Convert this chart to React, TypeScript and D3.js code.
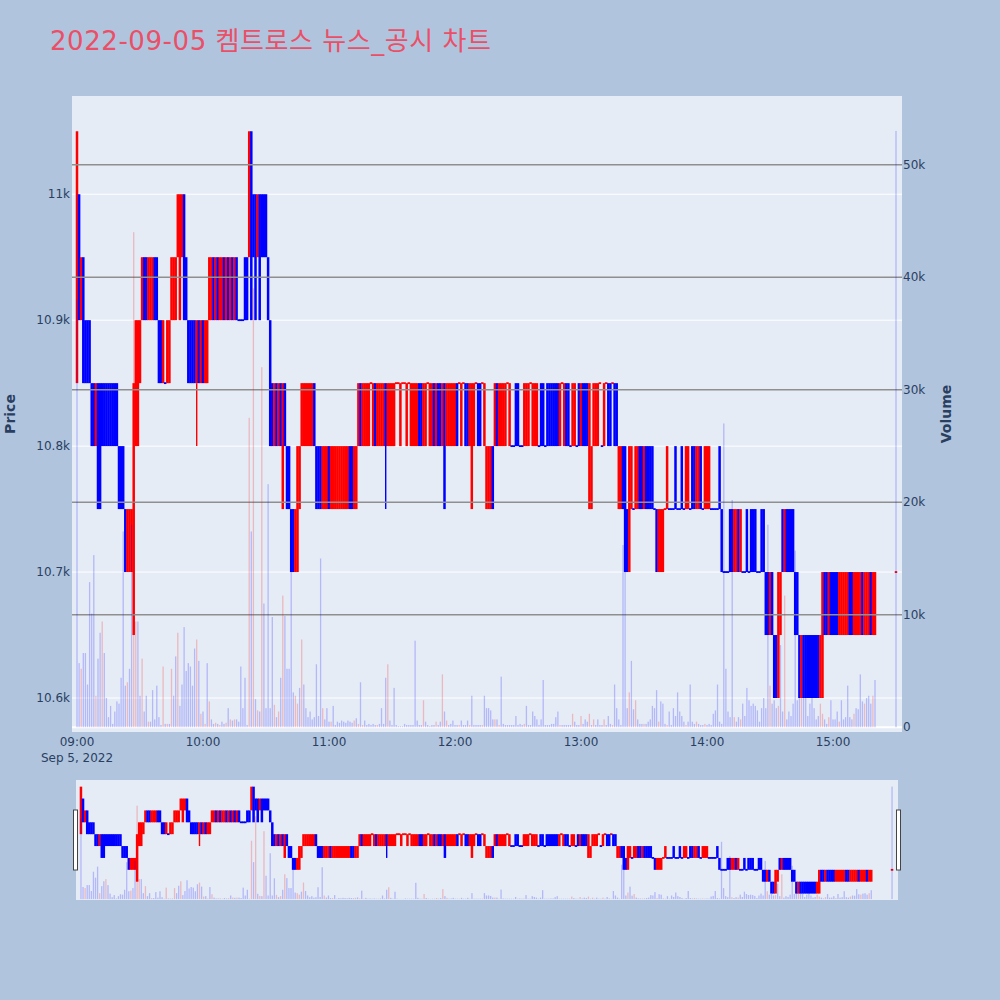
import React from "react";
import * as d3 from "d3";

// price ladder (index = level digit used in the candle tokens)
const priceLevels = [10600, 10650, 10700, 10750, 10800, 10850, 10900, 10950, 11000, 11050];

// one token per minute: open level, close level, optional low level
const candles09 = `
59 86 67 75 65 65 65 54 54 45
53 53 54 54 54 54 54 54 54 54
43 43 43 32 23 23 23 15 46 46
56 67 76 76 67 67 67 76 76 65
65 56 55 56 56 67 67 67 78 68
78 86 76 65 65 65 65 564 65 56`;
const candles10 = `
65 56 56 67 67 76 67 76 67 67
76 67 76 67 76 67 76 66 66 66
76 76 79 96 87 86 78 86 87 87
87 76 64 54 45 54 45 54 35 54
43 43 32 32 23 24 34 45 45 45
45 45 45 54 43 43 43 34 34 34`;
const candles11 = `
43 34 34 34 34 34 34 34 34 34
43 43 34 34 45 54 45 45 45 45
55 45 54 45 45 45 45 543 45 45
45 45 55 55 45 55 55 45 55 45
45 45 45 54 54 45 45 55 45 45
54 45 54 54 45 53 45 45 45 45`;
const candles12 = `
45 54 55 45 55 54 54 45 35 45
55 54 54 55 45 34 34 34 43 45
54 45 45 45 45 55 45 44 44 54
54 44 44 45 45 45 55 45 45 45
44 54 54 44 54 54 54 54 54 54
45 55 45 54 54 44 45 45 44 54`;
const candles13 = `
45 54 54 54 35 34 45 45 45 55
44 45 55 54 54 55 54 54 34 34
43 42 32 24 34 33 34 34 43 43
34 43 43 43 43 33 32 23 23 23
33 34 33 33 33 43 33 33 43 33
34 34 33 43 43 34 34 43 33 34`;
const candles14 = `
34 34 33 33 33 33 43 32 22 22
22 32 32 23 23 32 23 22 22 32
22 32 32 32 22 22 32 32 21 21
12 21 10 10 02 12 32 23 32 32
32 32 21 21 10 01 10 10 10 10
10 10 10 10 01 02 21 21 12 21`;
const candles15 = `
21 21 21 12 12 12 12 12 21 21
12 12 12 12 21 12 12 12 21 12 12`;
const candlesClose = `22`;

// volume per minute, thousands of shares
const volume09 = [38, 5.7, 5.2, 6.6, 6.6, 3.8, 12.9, 10.1, 15.3, 2.8, 6.1, 8.4, 9.4, 6.6, 2.6, 0.9, 1.9, 0.3, 1.4, 2.3, 2.1, 4.4, 17.4, 3.7, 4, 5.2, 18, 44, 9.4, 9.4, 2.8, 6.1, 1.4, 2.8, 0.5, 0.5, 3.3, 0.7, 3.7, 0.9, 0.2, 5.4, 0.3, 0.3, 0.3, 5.2, 2.8, 6.3, 8.4, 1.9, 3.8, 8.9, 5, 5.7, 5.4, 3.7, 7, 7.8, 5.9, 1.2];
const volume10 = [1.4, 0.3, 5.7, 2.3, 0.7, 0.3, 0.4, 0.3, 0.2, 0.5, 0.3, 0.4, 1.7, 0.7, 0.6, 0.7, 0.7, 0.5, 5.4, 1.7, 4.4, 0.2, 27.5, 17.4, 39, 2.5, 1.5, 1.4, 32, 11, 1.7, 21.6, 1.7, 9.8, 2, 0.9, 1.4, 4.4, 11.7, 9.9, 5.2, 5.2, 15, 3.1, 2.8, 2.1, 3.5, 7.8, 3.8, 1.7, 0.9, 1.4, 0.7, 0.9, 5.6, 1, 15, 1.7, 0.7, 1.7];
const volume11 = [0.5, 0.5, 1.9, 0.2, 0.5, 0.4, 0.6, 0.5, 0.4, 0.6, 0.5, 0.4, 0.6, 0.8, 0.3, 4, 0.2, 0.6, 0.2, 0.3, 0.2, 0.3, 0.2, 0.2, 0.3, 1.7, 0.3, 4.4, 5.6, 0.6, 0.2, 3.5, 0.2, 0.1, 0.1, 0.1, 0.3, 0.2, 0.2, 0.2, 0.2, 7.7, 0.6, 0.2, 0.2, 2.4, 0.5, 0.2, 0.1, 0.2, 0.2, 0.5, 0.2, 0.5, 4.7, 1.4, 0.6, 0.2, 0.3, 0.6];
const volume12 = [0.2, 0.2, 0.2, 0.6, 0.2, 0.2, 0.6, 0.2, 2.8, 0.2, 0.2, 0.2, 0.2, 0.2, 2.8, 1.7, 1.7, 1.5, 0.7, 0.7, 0.7, 0.2, 4.5, 0.3, 0.2, 0.2, 0.2, 0.2, 0.2, 1, 0.2, 0.3, 0.2, 0.3, 1.9, 0.2, 0.2, 1.4, 1, 0.7, 0.2, 0.7, 4.2, 0.2, 0.2, 0.2, 0.3, 0.3, 0.9, 1.4, 0.2, 0.2, 0.2, 0.2, 0.2, 0.2, 1.2, 0.5, 0.2, 0.2];
const volume13 = [1, 0.3, 0.7, 0.5, 1.2, 0.2, 0.7, 0.2, 0.7, 0.2, 0.2, 0.7, 0.2, 1, 0.3, 0.2, 3.8, 1.7, 0.7, 0.2, 16.2, 13.8, 1.7, 3.1, 5.9, 1.6, 2.4, 0.7, 0.3, 0.3, 0.3, 0.3, 0.5, 0.7, 1.9, 1.7, 3.3, 0.5, 2.3, 2.1, 0.3, 0.2, 1.4, 0.2, 1.7, 1, 3.1, 1.4, 1, 0.5, 0.2, 0.5, 3.8, 0.5, 0.3, 0.5, 0.3, 0.2, 0.2, 0.3];
const volume14 = [0.2, 0.3, 0.2, 1.2, 1.5, 3.8, 0.5, 0.3, 27, 5.2, 1.4, 0.9, 20.2, 0.9, 0.5, 0.9, 0.7, 2.1, 1, 3.5, 2.4, 1.9, 2.1, 1.9, 1.5, 0.5, 1.7, 2.6, 1.7, 18, 3.7, 2.1, 2.4, 1.7, 1.9, 7.3, 1.4, 11.7, 0.7, 1.4, 1, 2.1, 15.7, 2.4, 5.6, 2.8, 4.5, 2.6, 1, 2.1, 3.5, 1.7, 0.7, 1, 2.1, 1.2, 0.7, 0.3, 0.9, 2.4];
const volume15 = [0.7, 0.7, 1.4, 0.5, 2.4, 0.7, 0.9, 3.7, 0.9, 0.7, 1.2, 1.7, 1.6, 4.7, 2.3, 2.1, 2.6, 2.8, 2.1, 2.8, 4.2];
const volumeClose = [53];

const titleText = "2022-09-05 켐트로스 뉴스_공시 차트";
const dateLabel = "Sep 5, 2022";
const priceTitle = "Price";
const volumeTitle = "Volume";

const INC = "#ff0000";
const DEC = "#0000ff";
const PLOT_BG = "#E5ECF6";
const PAPER_BG = "#B0C4DE";
const FONT = "'DejaVu Sans', Verdana, sans-serif";
const TEXT = "#2a3f5f";

type Candle = { t: Date; o: number; h: number; l: number; c: number; v: number; up: boolean; volUp: boolean };

function buildCandles(): Candle[] {
  const sessions: { h: number; m: number; tokens: string; vols: number[] }[] = [
    { h: 9, m: 0, tokens: candles09, vols: volume09 },
    { h: 10, m: 0, tokens: candles10, vols: volume10 },
    { h: 11, m: 0, tokens: candles11, vols: volume11 },
    { h: 12, m: 0, tokens: candles12, vols: volume12 },
    { h: 13, m: 0, tokens: candles13, vols: volume13 },
    { h: 14, m: 0, tokens: candles14, vols: volume14 },
    { h: 15, m: 0, tokens: candles15, vols: volume15 },
    { h: 15, m: 30, tokens: candlesClose, vols: volumeClose },
  ];
  const out: Candle[] = [];
  let prevClose: number | null = null;
  let prevUp = true;
  for (const s of sessions) {
    const toks = s.tokens.trim().split(/\s+/);
    toks.forEach((tok, i) => {
      const o = priceLevels[+tok[0]];
      const c = priceLevels[+tok[1]];
      const l = tok.length > 2 ? Math.min(o, c, priceLevels[+tok[2]]) : Math.min(o, c);
      const h = Math.max(o, c);
      let up: boolean;
      if (c > o) up = true;
      else if (c < o) up = false;
      else if (prevClose !== null && c > prevClose) up = true;
      else if (prevClose !== null && c < prevClose) up = false;
      else up = prevUp;
      const volUp = prevClose !== null && c > prevClose;
      out.push({ t: new Date(2022, 8, 5, s.h, s.m + i), o, h, l, c, v: (s.vols[i] ?? 0) * 1000, up, volUp });
      prevClose = c;
      prevUp = up;
    });
  }
  return out;
}

const plot = { left: 72, right: 902, top: 96, bottom: 732 };
const slider = { left: 76, right: 898, top: 780, bottom: 900 };
const sessionStart = new Date(2022, 8, 5, 9, 0);
const xDomain = [new Date(sessionStart.getTime() - 143e3), new Date(sessionStart.getTime() + 392.86 * 60e3)];
const priceDomain = [10573, 11078];
const volDomain = [-420, 56100];

function Candles({ data, x, y, bodyW }: { data: Candle[]; x: any; y: any; bodyW: number }) {
  return (
    <g>
      {data.map((d, i) => {
        const col = d.up ? INC : DEC;
        const cx = x(d.t);
        const yTop = y(Math.max(d.o, d.c));
        const yBot = y(Math.min(d.o, d.c));
        const flat = d.o === d.c;
        return (
          <g key={i}>
            {d.l < Math.min(d.o, d.c) && (
              <line x1={cx} x2={cx} y1={yBot} y2={y(d.l)} stroke={col} strokeWidth={1.4} />
            )}
            <rect
              x={cx - bodyW / 2}
              width={bodyW}
              y={flat ? yTop - 0.9 : yTop}
              height={flat ? 1.8 : yBot - yTop}
              fill={col}
            />
          </g>
        );
      })}
    </g>
  );
}

function Volumes({ data, x, y, barW }: { data: Candle[]; x: any; y: any; barW: number }) {
  return (
    <g>
      {data.map((d, i) => (
        <rect
          key={i}
          x={x(d.t) - barW / 2}
          width={barW}
          y={y(d.v)}
          height={Math.max(0, y(0) - y(d.v))}
          fill={d.volUp ? INC : DEC}
          fillOpacity={0.22}
        />
      ))}
    </g>
  );
}

export default function App() {
  const data = React.useMemo(buildCandles, []);
  const x = d3.scaleTime().domain(xDomain).range([plot.left, plot.right]);
  const yP = d3.scaleLinear().domain(priceDomain).range([plot.bottom, plot.top]);
  const yV = d3.scaleLinear().domain(volDomain).range([plot.bottom, plot.top]);
  const xs = d3.scaleTime().domain(xDomain).range([slider.left, slider.right]);
  const ysP = d3.scaleLinear().domain(priceDomain).range([slider.bottom, slider.top]);
  const ysV = d3.scaleLinear().domain(volDomain).range([slider.bottom, slider.top]);

  const priceTicks = yP.ticks(5);
  const volTicks = yV.ticks(6).filter((t) => t >= 0);
  const timeTicks = x.ticks(d3.timeHour.every(1) as any);
  const fmtK = d3.format("~s");
  const fmtT = d3.timeFormat("%H:%M");
  const midY = (plot.top + plot.bottom) / 2;

  return (
    <svg width={1000} height={1000} style={{ position: "absolute", left: 0, top: 0 }}>
      <rect x={0} y={0} width={1000} height={1000} fill={PAPER_BG} />
      <text
        x={50}
        y={50}
        fontFamily={"'DejaVu Sans', 'Noto Sans CJK KR', sans-serif"}
        fontSize={26}
        fill="#EB4F67"
        textLength={441}
        lengthAdjust="spacing"
      >
        {titleText}
      </text>

      {/* main plot */}
      <rect x={plot.left} y={plot.top} width={plot.right - plot.left} height={plot.bottom - plot.top} fill={PLOT_BG} />
      {priceTicks.map((t) => (
        <line key={"pg" + t} x1={plot.left} x2={plot.right} y1={yP(t)} y2={yP(t)} stroke="#fff" strokeWidth={1} />
      ))}
      <Candles data={data} x={x} y={yP} bodyW={2.5} />
      {volTicks.filter((t) => t > 0).map((t) => (
        <line key={"vg" + t} x1={plot.left} x2={plot.right} y1={yV(t)} y2={yV(t)} stroke="#8f8f8f" strokeWidth={1.5} />
      ))}
      <line x1={plot.left} x2={plot.right} y1={yV(0)} y2={yV(0)} stroke="#fff" strokeWidth={2} />
      <Volumes data={data} x={x} y={yV} barW={1.3} />

      {/* axes labels */}
      {priceTicks.map((t) => (
        <text key={"pt" + t} x={70} y={yP(t)} dy="0.35em" textAnchor="end" fontFamily={FONT} fontSize={12} fill={TEXT}>
          {fmtK(t)}
        </text>
      ))}
      {volTicks.map((t) => (
        <text key={"vt" + t} x={903} y={yV(t)} dy="0.35em" textAnchor="start" fontFamily={FONT} fontSize={12} fill={TEXT}>
          {fmtK(t)}
        </text>
      ))}
      {timeTicks.map((t, i) => (
        <text key={"tt" + i} x={x(t)} y={746} textAnchor="middle" fontFamily={FONT} fontSize={12} fill={TEXT}>
          {fmtT(t)}
        </text>
      ))}
      <text x={x(timeTicks[0])} y={762} textAnchor="middle" fontFamily={FONT} fontSize={12} fill={TEXT}>
        {dateLabel}
      </text>
      <text transform={`translate(15,${midY}) rotate(-90)`} textAnchor="middle" fontFamily={FONT} fontSize={14} fontWeight="bold" fill={TEXT}>
        {priceTitle}
      </text>
      <text transform={`translate(951,${midY}) rotate(-90)`} textAnchor="middle" fontFamily={FONT} fontSize={14} fontWeight="bold" fill={TEXT}>
        {volumeTitle}
      </text>

      {/* range slider */}
      <rect x={slider.left} y={slider.top} width={slider.right - slider.left} height={slider.bottom - slider.top} fill={PLOT_BG} />
      <Candles data={data} x={xs} y={ysP} bodyW={2.5} />
      <Volumes data={data} x={xs} y={ysV} barW={1.3} />
      {[slider.left - 2.5, slider.right - 1.5].map((hx, i) => (
        <rect key={"h" + i} x={hx} y={slider.top + 30} width={4} height={60} fill="#fff" stroke="#444" strokeWidth={1} />
      ))}
    </svg>
  );
}
